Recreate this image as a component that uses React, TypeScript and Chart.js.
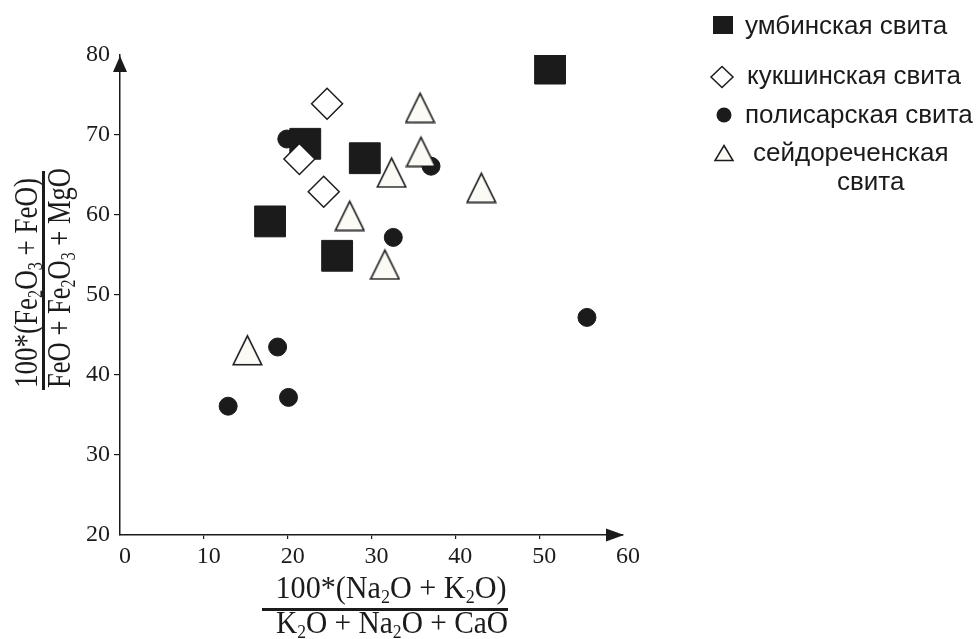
import React, { useEffect, useRef } from 'react';
import { Chart, registerables } from 'chart.js';

Chart.register(...registerables);

// ---- data ----
const seriesNames = ['умбинская свита', 'кукшинская свита', 'полисарская свита', 'сейдореченская свита'];
const legendLines = [['умбинская свита'], ['кукшинская свита'], ['полисарская свита'], ['сейдореченская', 'свита']];

const umbX = [51.3, 22.1, 29.2, 17.9, 25.9];
const umbY = [78.3, 68.9, 67.1, 59.2, 54.9];

const kukX = [24.7, 21.4, 24.3];
const kukY = [73.9, 67.0, 62.9];

const polX = [19.9, 37.1, 32.6, 55.7, 18.8, 20.1, 12.9];
const polY = [69.5, 66.1, 57.2, 47.2, 43.5, 37.2, 36.1];

const seiX = [35.8, 35.9, 32.4, 43.1, 27.4, 31.6, 15.2];
const seiY = [73.5, 68.0, 65.4, 63.5, 60.0, 53.9, 43.2];

const xTicks = [0, 10, 20, 30, 40, 50, 60];
const yTicks = [20, 30, 40, 50, 60, 70, 80];

// axis titles: [text, isSubscript]
const xTitleTop: [string, number][] = [['100*(Na', 0], ['2', 1], ['O + K', 0], ['2', 1], ['O)', 0]];
const xTitleBottom: [string, number][] = [['K', 0], ['2', 1], ['O + Na', 0], ['2', 1], ['O + CaO', 0]];
const yTitleTop: [string, number][] = [['100*(Fe', 0], ['2', 1], ['O', 0], ['3', 1], [' + FeO)', 0]];
const yTitleBottom: [string, number][] = [['FeO + Fe', 0], ['2', 1], ['O', 0], ['3', 1], [' + MgO', 0]];

// ---- styles ----
const INK = '#1b1b1b';
const TRI_FILL = '#fcfaf5';
const SERIF = '"Liberation Serif", "Times New Roman", serif';
const SANS = '"Liberation Sans", Arial, sans-serif';

function pts(xs: number[], ys: number[]) {
  return xs.map((x, i) => ({ x, y: ys[i] }));
}

function makeTriangle(w: number, h: number, lw: number) {
  const c = document.createElement('canvas');
  c.width = w;
  c.height = h;
  const g = c.getContext('2d')!;
  g.lineWidth = lw;
  g.strokeStyle = INK;
  g.fillStyle = TRI_FILL;
  const p = lw / 2 + 0.5;
  g.beginPath();
  g.moveTo(w / 2, p + 1.5);
  g.lineTo(w - p, h - p);
  g.lineTo(p, h - p);
  g.closePath();
  g.fill();
  g.stroke();
  return c;
}

function drawRich(ctx: CanvasRenderingContext2D, segs: [string, number][], size: number, targetW: number) {
  const subSize = size * 0.6;
  let w = 0;
  const widths = segs.map(([t, sub]) => {
    ctx.font = `${sub ? subSize : size}px ${SERIF}`;
    const m = ctx.measureText(t).width;
    w += m;
    return m;
  });
  const sx = targetW / w;
  ctx.save();
  ctx.scale(sx, 1);
  let x = -w / 2;
  segs.forEach(([t, sub], i) => {
    ctx.font = `${sub ? subSize : size}px ${SERIF}`;
    ctx.fillText(t, x, sub ? size * 0.15 : 0);
    x += widths[i];
  });
  ctx.restore();
}

const arrowsPlugin = {
  id: 'axisArrows',
  afterDraw(chart: any) {
    const { ctx, chartArea } = chart;
    const { left, right, top, bottom } = chartArea;
    ctx.save();
    ctx.fillStyle = INK;
    ctx.beginPath();
    ctx.moveTo(right + 1, bottom);
    ctx.lineTo(right - 17, bottom - 6.5);
    ctx.lineTo(right - 17, bottom + 6.5);
    ctx.closePath();
    ctx.fill();
    ctx.beginPath();
    ctx.moveTo(left, top + 1);
    ctx.lineTo(left - 7, top + 17);
    ctx.lineTo(left + 7, top + 17);
    ctx.closePath();
    ctx.fill();
    ctx.restore();
  },
};

const titlesPlugin = {
  id: 'fractionTitles',
  afterDraw(chart: any) {
    const ctx: CanvasRenderingContext2D = chart.ctx;
    ctx.save();
    ctx.fillStyle = INK;
    ctx.textAlign = 'left';
    ctx.textBaseline = 'alphabetic';
    // x title
    ctx.save();
    ctx.translate(391, 598);
    drawRich(ctx, xTitleTop, 32.5, 231);
    ctx.restore();
    ctx.fillRect(262, 608, 246, 3);
    ctx.save();
    ctx.translate(392, 633);
    drawRich(ctx, xTitleBottom, 32.5, 232);
    ctx.restore();
    // y title
    ctx.save();
    ctx.translate(36.5, 283);
    ctx.rotate(-Math.PI / 2);
    drawRich(ctx, yTitleTop, 34, 210);
    ctx.restore();
    ctx.fillRect(42, 171, 3, 219);
    ctx.save();
    ctx.translate(70, 278);
    ctx.rotate(-Math.PI / 2);
    drawRich(ctx, yTitleBottom, 34, 220);
    ctx.restore();
    ctx.restore();
  },
};

const legendPos = [
  { mx: 723, my: 25, tx: 745, ty: [33.5] },
  { mx: 722, my: 77, tx: 747, ty: [83.5] },
  { mx: 724, my: 115, tx: 745, ty: [122.5] },
  { mx: 724, my: 153, tx: 753, ty: [160.5, 189.5], tx2: 837 },
];

const legendPlugin = {
  id: 'sideLegend',
  afterDraw(chart: any) {
    const ctx: CanvasRenderingContext2D = chart.ctx;
    ctx.save();
    ctx.lineWidth = 1.5;
    ctx.strokeStyle = INK;
    legendPos.forEach((p, i) => {
      ctx.fillStyle = INK;
      ctx.beginPath();
      if (i === 0) {
        ctx.rect(p.mx - 10, p.my - 9, 20, 18);
        ctx.fill();
      } else if (i === 1) {
        ctx.moveTo(p.mx - 11, p.my);
        ctx.lineTo(p.mx, p.my - 10.5);
        ctx.lineTo(p.mx + 11, p.my);
        ctx.lineTo(p.mx, p.my + 10.5);
        ctx.closePath();
        ctx.fillStyle = '#ffffff';
        ctx.fill();
        ctx.stroke();
      } else if (i === 2) {
        ctx.arc(p.mx, p.my, 7.5, 0, Math.PI * 2);
        ctx.fill();
      } else {
        ctx.moveTo(p.mx, p.my - 7.5);
        ctx.lineTo(p.mx + 9, p.my + 7.5);
        ctx.lineTo(p.mx - 9, p.my + 7.5);
        ctx.closePath();
        ctx.fillStyle = TRI_FILL;
        ctx.fill();
        ctx.stroke();
      }
      ctx.fillStyle = INK;
      ctx.font = `26px ${SANS}`;
      ctx.textAlign = 'left';
      ctx.textBaseline = 'alphabetic';
      legendLines[i].forEach((line, j) => {
        const x = j === 0 ? p.tx : (p as any).tx2;
        ctx.fillText(line, x, p.ty[j]);
      });
    });
    ctx.restore();
  },
};

export default function App() {
  const ref = useRef<HTMLCanvasElement | null>(null);

  useEffect(() => {
    if (!ref.current) return;
    const tri = makeTriangle(31, 33, 1.6);
    const hideEnds = (ends: number[]) => (c: any) =>
      c.tick && ends.includes(c.tick.value) ? 'rgba(0,0,0,0)' : INK;

    const chart = new Chart(ref.current, {
      type: 'scatter',
      data: {
        datasets: [
          {
            label: seriesNames[0],
            data: pts(umbX, umbY),
            pointStyle: 'rect',
            pointRadius: 21.8,
            backgroundColor: INK,
            borderColor: INK,
            borderWidth: 1,
            order: 2,
          },
          {
            label: seriesNames[1],
            data: pts(kukX, kukY),
            pointStyle: 'rectRot',
            pointRadius: 15.5,
            backgroundColor: '#ffffff',
            borderColor: INK,
            borderWidth: 1.5,
            order: 1,
          },
          {
            label: seriesNames[2],
            data: pts(polX, polY),
            pointStyle: 'circle',
            pointRadius: 9,
            backgroundColor: INK,
            borderColor: INK,
            borderWidth: 1,
            order: 3,
          },
          {
            label: seriesNames[3],
            data: pts(seiX, seiY),
            pointStyle: tri as any,
            pointRadius: 15,
            backgroundColor: TRI_FILL,
            borderColor: INK,
            borderWidth: 1.5,
            order: 0,
          },
        ],
      },
      options: {
        animation: false,
        responsive: false,
        devicePixelRatio: 1,
        events: [],
        layout: { padding: { left: 0, top: 55, right: 353, bottom: 0 } },
        plugins: {
          legend: { display: false },
          tooltip: { enabled: false },
          title: { display: false },
        },
        scales: {
          x: {
            type: 'linear',
            min: 0,
            max: 60,
            afterBuildTicks: (s: any) => {
              s.ticks = xTicks.map((v) => ({ value: v }));
            },
            afterFit: (s: any) => {
              s.height = 104;
            },
            border: { display: true, color: INK, width: 1.5 },
            grid: {
              display: true,
              drawOnChartArea: false,
              drawTicks: true,
              tickLength: 4,
              color: hideEnds([0, 60]),
              lineWidth: 1.2,
            },
            ticks: {
              color: INK,
              font: { family: SERIF, size: 24 },
              padding: 3,
              labelOffset: 5,
              maxRotation: 0,
              autoSkip: false,
            },
          },
          y: {
            type: 'linear',
            min: 20,
            max: 80,
            afterBuildTicks: (s: any) => {
              s.ticks = yTicks.map((v) => ({ value: v }));
            },
            afterFit: (s: any) => {
              s.width = 120;
            },
            border: { display: true, color: INK, width: 1.5 },
            grid: {
              display: true,
              drawOnChartArea: false,
              drawTicks: true,
              tickLength: 6,
              color: hideEnds([20, 80]),
              lineWidth: 1.2,
            },
            ticks: {
              color: INK,
              font: { family: SERIF, size: 24 },
              padding: 4,
              autoSkip: false,
            },
          },
        },
      },
      plugins: [arrowsPlugin, titlesPlugin, legendPlugin],
    } as any);

    return () => chart.destroy();
  }, []);

  return (
    <div style={{ position: 'absolute', left: 0, top: 0, width: 976, height: 639, background: '#ffffff' }}>
      <canvas ref={ref} width={976} height={639} style={{ display: 'block' }} />
    </div>
  );
}
